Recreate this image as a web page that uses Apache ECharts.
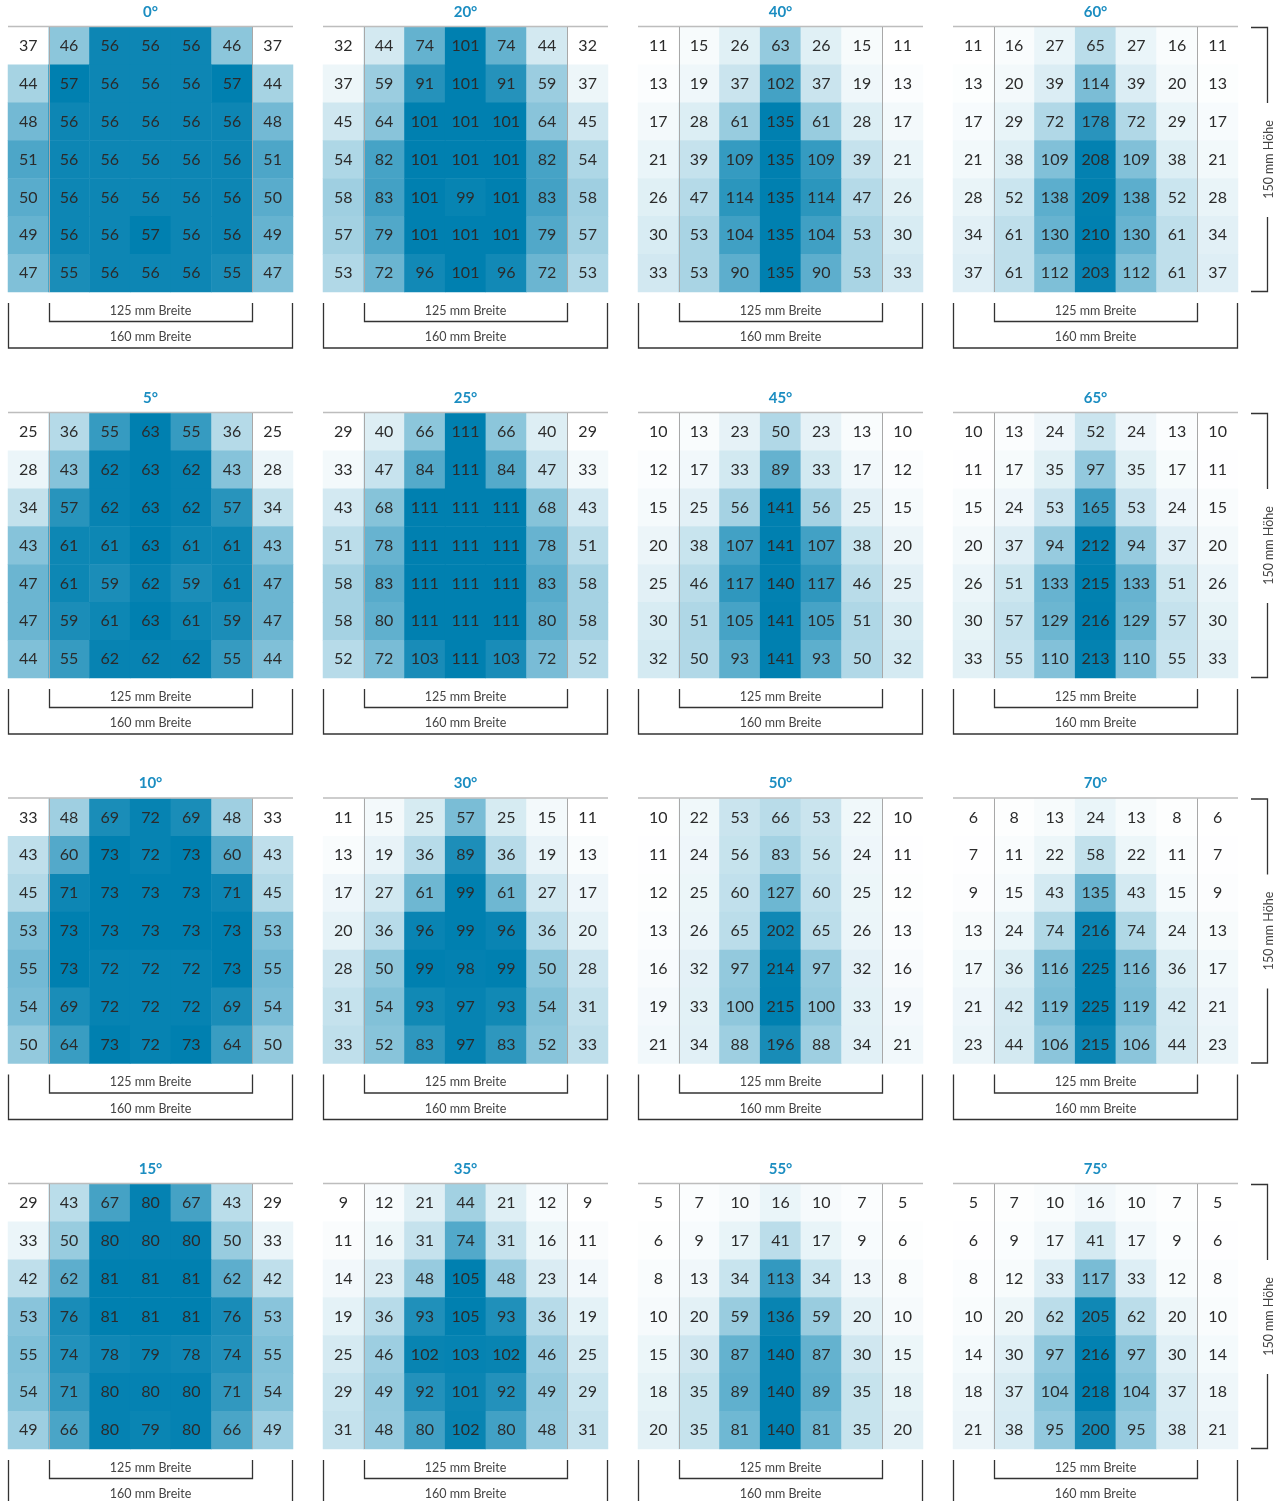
<!DOCTYPE html>
<html>
<head>
<meta charset="utf-8">
<script src="https://cdn.jsdelivr.net/npm/echarts@6/dist/echarts.min.js"></script>
<style>
  html, body { margin: 0; padding: 0; background: #ffffff; }
  #chart { width: 1285px; height: 1501px; }
</style>
</head>
<body>
<div id="chart"></div>
<script>
// ---- Data: measured values per angle (7 rows x 7 columns) ----
const angleLabels = ['0°', '20°', '40°', '60°', '5°', '25°', '45°', '65°', '10°', '30°', '50°', '70°', '15°', '35°', '55°', '75°'];
const v0 = [
  [37, 46, 56, 56, 56, 46, 37],
  [44, 57, 56, 56, 56, 57, 44],
  [48, 56, 56, 56, 56, 56, 48],
  [51, 56, 56, 56, 56, 56, 51],
  [50, 56, 56, 56, 56, 56, 50],
  [49, 56, 56, 57, 56, 56, 49],
  [47, 55, 56, 56, 56, 55, 47]
];
const v20 = [
  [32, 44, 74, 101, 74, 44, 32],
  [37, 59, 91, 101, 91, 59, 37],
  [45, 64, 101, 101, 101, 64, 45],
  [54, 82, 101, 101, 101, 82, 54],
  [58, 83, 101, 99, 101, 83, 58],
  [57, 79, 101, 101, 101, 79, 57],
  [53, 72, 96, 101, 96, 72, 53]
];
const v40 = [
  [11, 15, 26, 63, 26, 15, 11],
  [13, 19, 37, 102, 37, 19, 13],
  [17, 28, 61, 135, 61, 28, 17],
  [21, 39, 109, 135, 109, 39, 21],
  [26, 47, 114, 135, 114, 47, 26],
  [30, 53, 104, 135, 104, 53, 30],
  [33, 53, 90, 135, 90, 53, 33]
];
const v60 = [
  [11, 16, 27, 65, 27, 16, 11],
  [13, 20, 39, 114, 39, 20, 13],
  [17, 29, 72, 178, 72, 29, 17],
  [21, 38, 109, 208, 109, 38, 21],
  [28, 52, 138, 209, 138, 52, 28],
  [34, 61, 130, 210, 130, 61, 34],
  [37, 61, 112, 203, 112, 61, 37]
];
const v5 = [
  [25, 36, 55, 63, 55, 36, 25],
  [28, 43, 62, 63, 62, 43, 28],
  [34, 57, 62, 63, 62, 57, 34],
  [43, 61, 61, 63, 61, 61, 43],
  [47, 61, 59, 62, 59, 61, 47],
  [47, 59, 61, 63, 61, 59, 47],
  [44, 55, 62, 62, 62, 55, 44]
];
const v25 = [
  [29, 40, 66, 111, 66, 40, 29],
  [33, 47, 84, 111, 84, 47, 33],
  [43, 68, 111, 111, 111, 68, 43],
  [51, 78, 111, 111, 111, 78, 51],
  [58, 83, 111, 111, 111, 83, 58],
  [58, 80, 111, 111, 111, 80, 58],
  [52, 72, 103, 111, 103, 72, 52]
];
const v45 = [
  [10, 13, 23, 50, 23, 13, 10],
  [12, 17, 33, 89, 33, 17, 12],
  [15, 25, 56, 141, 56, 25, 15],
  [20, 38, 107, 141, 107, 38, 20],
  [25, 46, 117, 140, 117, 46, 25],
  [30, 51, 105, 141, 105, 51, 30],
  [32, 50, 93, 141, 93, 50, 32]
];
const v65 = [
  [10, 13, 24, 52, 24, 13, 10],
  [11, 17, 35, 97, 35, 17, 11],
  [15, 24, 53, 165, 53, 24, 15],
  [20, 37, 94, 212, 94, 37, 20],
  [26, 51, 133, 215, 133, 51, 26],
  [30, 57, 129, 216, 129, 57, 30],
  [33, 55, 110, 213, 110, 55, 33]
];
const v10 = [
  [33, 48, 69, 72, 69, 48, 33],
  [43, 60, 73, 72, 73, 60, 43],
  [45, 71, 73, 73, 73, 71, 45],
  [53, 73, 73, 73, 73, 73, 53],
  [55, 73, 72, 72, 72, 73, 55],
  [54, 69, 72, 72, 72, 69, 54],
  [50, 64, 73, 72, 73, 64, 50]
];
const v30 = [
  [11, 15, 25, 57, 25, 15, 11],
  [13, 19, 36, 89, 36, 19, 13],
  [17, 27, 61, 99, 61, 27, 17],
  [20, 36, 96, 99, 96, 36, 20],
  [28, 50, 99, 98, 99, 50, 28],
  [31, 54, 93, 97, 93, 54, 31],
  [33, 52, 83, 97, 83, 52, 33]
];
const v50 = [
  [10, 22, 53, 66, 53, 22, 10],
  [11, 24, 56, 83, 56, 24, 11],
  [12, 25, 60, 127, 60, 25, 12],
  [13, 26, 65, 202, 65, 26, 13],
  [16, 32, 97, 214, 97, 32, 16],
  [19, 33, 100, 215, 100, 33, 19],
  [21, 34, 88, 196, 88, 34, 21]
];
const v70 = [
  [6, 8, 13, 24, 13, 8, 6],
  [7, 11, 22, 58, 22, 11, 7],
  [9, 15, 43, 135, 43, 15, 9],
  [13, 24, 74, 216, 74, 24, 13],
  [17, 36, 116, 225, 116, 36, 17],
  [21, 42, 119, 225, 119, 42, 21],
  [23, 44, 106, 215, 106, 44, 23]
];
const v15 = [
  [29, 43, 67, 80, 67, 43, 29],
  [33, 50, 80, 80, 80, 50, 33],
  [42, 62, 81, 81, 81, 62, 42],
  [53, 76, 81, 81, 81, 76, 53],
  [55, 74, 78, 79, 78, 74, 55],
  [54, 71, 80, 80, 80, 71, 54],
  [49, 66, 80, 79, 80, 66, 49]
];
const v35 = [
  [9, 12, 21, 44, 21, 12, 9],
  [11, 16, 31, 74, 31, 16, 11],
  [14, 23, 48, 105, 48, 23, 14],
  [19, 36, 93, 105, 93, 36, 19],
  [25, 46, 102, 103, 102, 46, 25],
  [29, 49, 92, 101, 92, 49, 29],
  [31, 48, 80, 102, 80, 48, 31]
];
const v55 = [
  [5, 7, 10, 16, 10, 7, 5],
  [6, 9, 17, 41, 17, 9, 6],
  [8, 13, 34, 113, 34, 13, 8],
  [10, 20, 59, 136, 59, 20, 10],
  [15, 30, 87, 140, 87, 30, 15],
  [18, 35, 89, 140, 89, 35, 18],
  [20, 35, 81, 140, 81, 35, 20]
];
const v75 = [
  [5, 7, 10, 16, 10, 7, 5],
  [6, 9, 17, 41, 17, 9, 6],
  [8, 12, 33, 117, 33, 12, 8],
  [10, 20, 62, 205, 62, 20, 10],
  [14, 30, 97, 216, 97, 30, 14],
  [18, 37, 104, 218, 104, 37, 18],
  [21, 38, 95, 200, 95, 38, 21]
];
const panelValues = [v0, v20, v40, v60, v5, v25, v45, v65, v10, v30, v50, v70, v15, v35, v55, v75];
const colCats = ['1', '2', '3', '4', '5', '6', '7'];
const rowCats = ['1', '2', '3', '4', '5', '6', '7'];
const innerLabel = '125 mm Breite';
const outerLabel = '160 mm Breite';
const heightLabel = '150 mm Höhe';

// ---- Layout ----
const panelLeft = [8, 323, 638, 953];
const gridTopRow = [27, 413, 798.5, 1184];
const panelW = 285;
const panelH = 265;
const cellW = panelW / 7;
const FONT = 'Lato, "Noto Sans", sans-serif';

const grids = [], xAxes = [], yAxes = [], series = [], visualMaps = [], graphics = [];

panelValues.forEach((vals, i) => {
  const r = Math.floor(i / 4), c = i % 4;
  const left = panelLeft[c], top = gridTopRow[r];
  grids.push({ left: left, top: top, width: panelW, height: panelH });
  xAxes.push({ type: 'category', data: colCats, gridIndex: i, show: false });
  yAxes.push({ type: 'category', data: rowCats, gridIndex: i, show: false, inverse: true });
  const data = [];
  vals.forEach((row, y) => row.forEach((v, x) => data.push([x, y, v])));
  const flat = vals.flat();
  visualMaps.push({
    type: 'continuous', show: false, seriesIndex: i, dimension: 2,
    min: Math.min(...flat), max: Math.max(...flat),
    inRange: { color: ['#ffffff', '#0080b0'] }
  });
  series.push({
    type: 'heatmap', xAxisIndex: i, yAxisIndex: i, data: data,
    label: { show: true, color: '#2b2b2b', fontSize: 16, fontFamily: FONT },
    itemStyle: { borderWidth: 0 },
    emphasis: { disabled: true },
    silent: true
  });
  // panel title
  graphics.push({ type: 'text', z: 100, x: left + panelW / 2, y: top - 15,
    style: { text: angleLabels[i], fill: '#1b8dc1', fontSize: 15, fontWeight: 'bold', fontFamily: FONT,
      textAlign: 'center', textVerticalAlign: 'middle' } });

  // top rule
  graphics.push({ type: 'line', z: 100, shape: { x1: left, y1: top - 0.5, x2: left + panelW, y2: top - 0.5 },
    style: { stroke: '#bdbdbd', lineWidth: 1.5 } });
  // inner column boundaries (125 mm zone)
  [1, 6].forEach(k => {
    const x = Math.round(left + k * cellW) + 0.5;
    graphics.push({ type: 'line', z: 100, shape: { x1: x, y1: top, x2: x, y2: top + panelH },
      style: { stroke: '#a8a8a8', lineWidth: 1 } });
  });
  // 125 mm bracket
  const ix1 = Math.round(left + cellW) + 0.5, ix2 = Math.round(left + 6 * cellW) + 0.5;
  const iy1 = top + 276, iy2 = top + 294.5;
  graphics.push({ type: 'polyline', z: 100, shape: { points: [[ix1, iy1], [ix1, iy2], [ix2, iy2], [ix2, iy1]] },
    style: { stroke: '#333', lineWidth: 1.3, fill: null } });
  graphics.push({ type: 'text', z: 100, x: left + panelW / 2, y: top + 283.5,
    style: { text: innerLabel, fill: '#444', fontSize: 12.5, fontFamily: FONT, textAlign: 'center', textVerticalAlign: 'middle' } });
  // 160 mm bracket
  const ox1 = left + 0.5, ox2 = left + panelW - 0.5;
  const oy1 = top + 276, oy2 = top + 321;
  graphics.push({ type: 'polyline', z: 100, shape: { points: [[ox1, oy1], [ox1, oy2], [ox2, oy2], [ox2, oy1]] },
    style: { stroke: '#333', lineWidth: 1.3, fill: null } });
  graphics.push({ type: 'text', z: 100, x: left + panelW / 2, y: top + 310,
    style: { text: outerLabel, fill: '#444', fontSize: 12.5, fontFamily: FONT, textAlign: 'center', textVerticalAlign: 'middle' } });

  // 150 mm height bracket on right column
  if (c === 3) {
    const bx = left + panelW + 29.5, tx = left + panelW + 13;
    const gapTop = top + 76, gapBot = top + 190;
    graphics.push({ type: 'polyline', z: 100, shape: { points: [[tx, top + 0.5], [bx, top + 0.5], [bx, gapTop]] },
      style: { stroke: '#333', lineWidth: 1.3, fill: null } });
    graphics.push({ type: 'polyline', z: 100, shape: { points: [[bx, gapBot], [bx, top + panelH - 0.5], [tx, top + panelH - 0.5]] },
      style: { stroke: '#333', lineWidth: 1.3, fill: null } });
    graphics.push({ type: 'text', z: 100, x: bx + 1, y: top + panelH / 2, rotation: Math.PI / 2,
      style: { text: heightLabel, fill: '#444', fontSize: 12.5, fontFamily: FONT, textAlign: 'center', textVerticalAlign: 'middle' } });
  }
});

const chart = echarts.init(document.getElementById('chart'), null, { renderer: 'canvas' });
chart.setOption({
  backgroundColor: '#ffffff',
  animation: false,
  grid: grids,
  xAxis: xAxes,
  yAxis: yAxes,
  visualMap: visualMaps,
  series: series,
  graphic: graphics
});
</script>
</body>
</html>
